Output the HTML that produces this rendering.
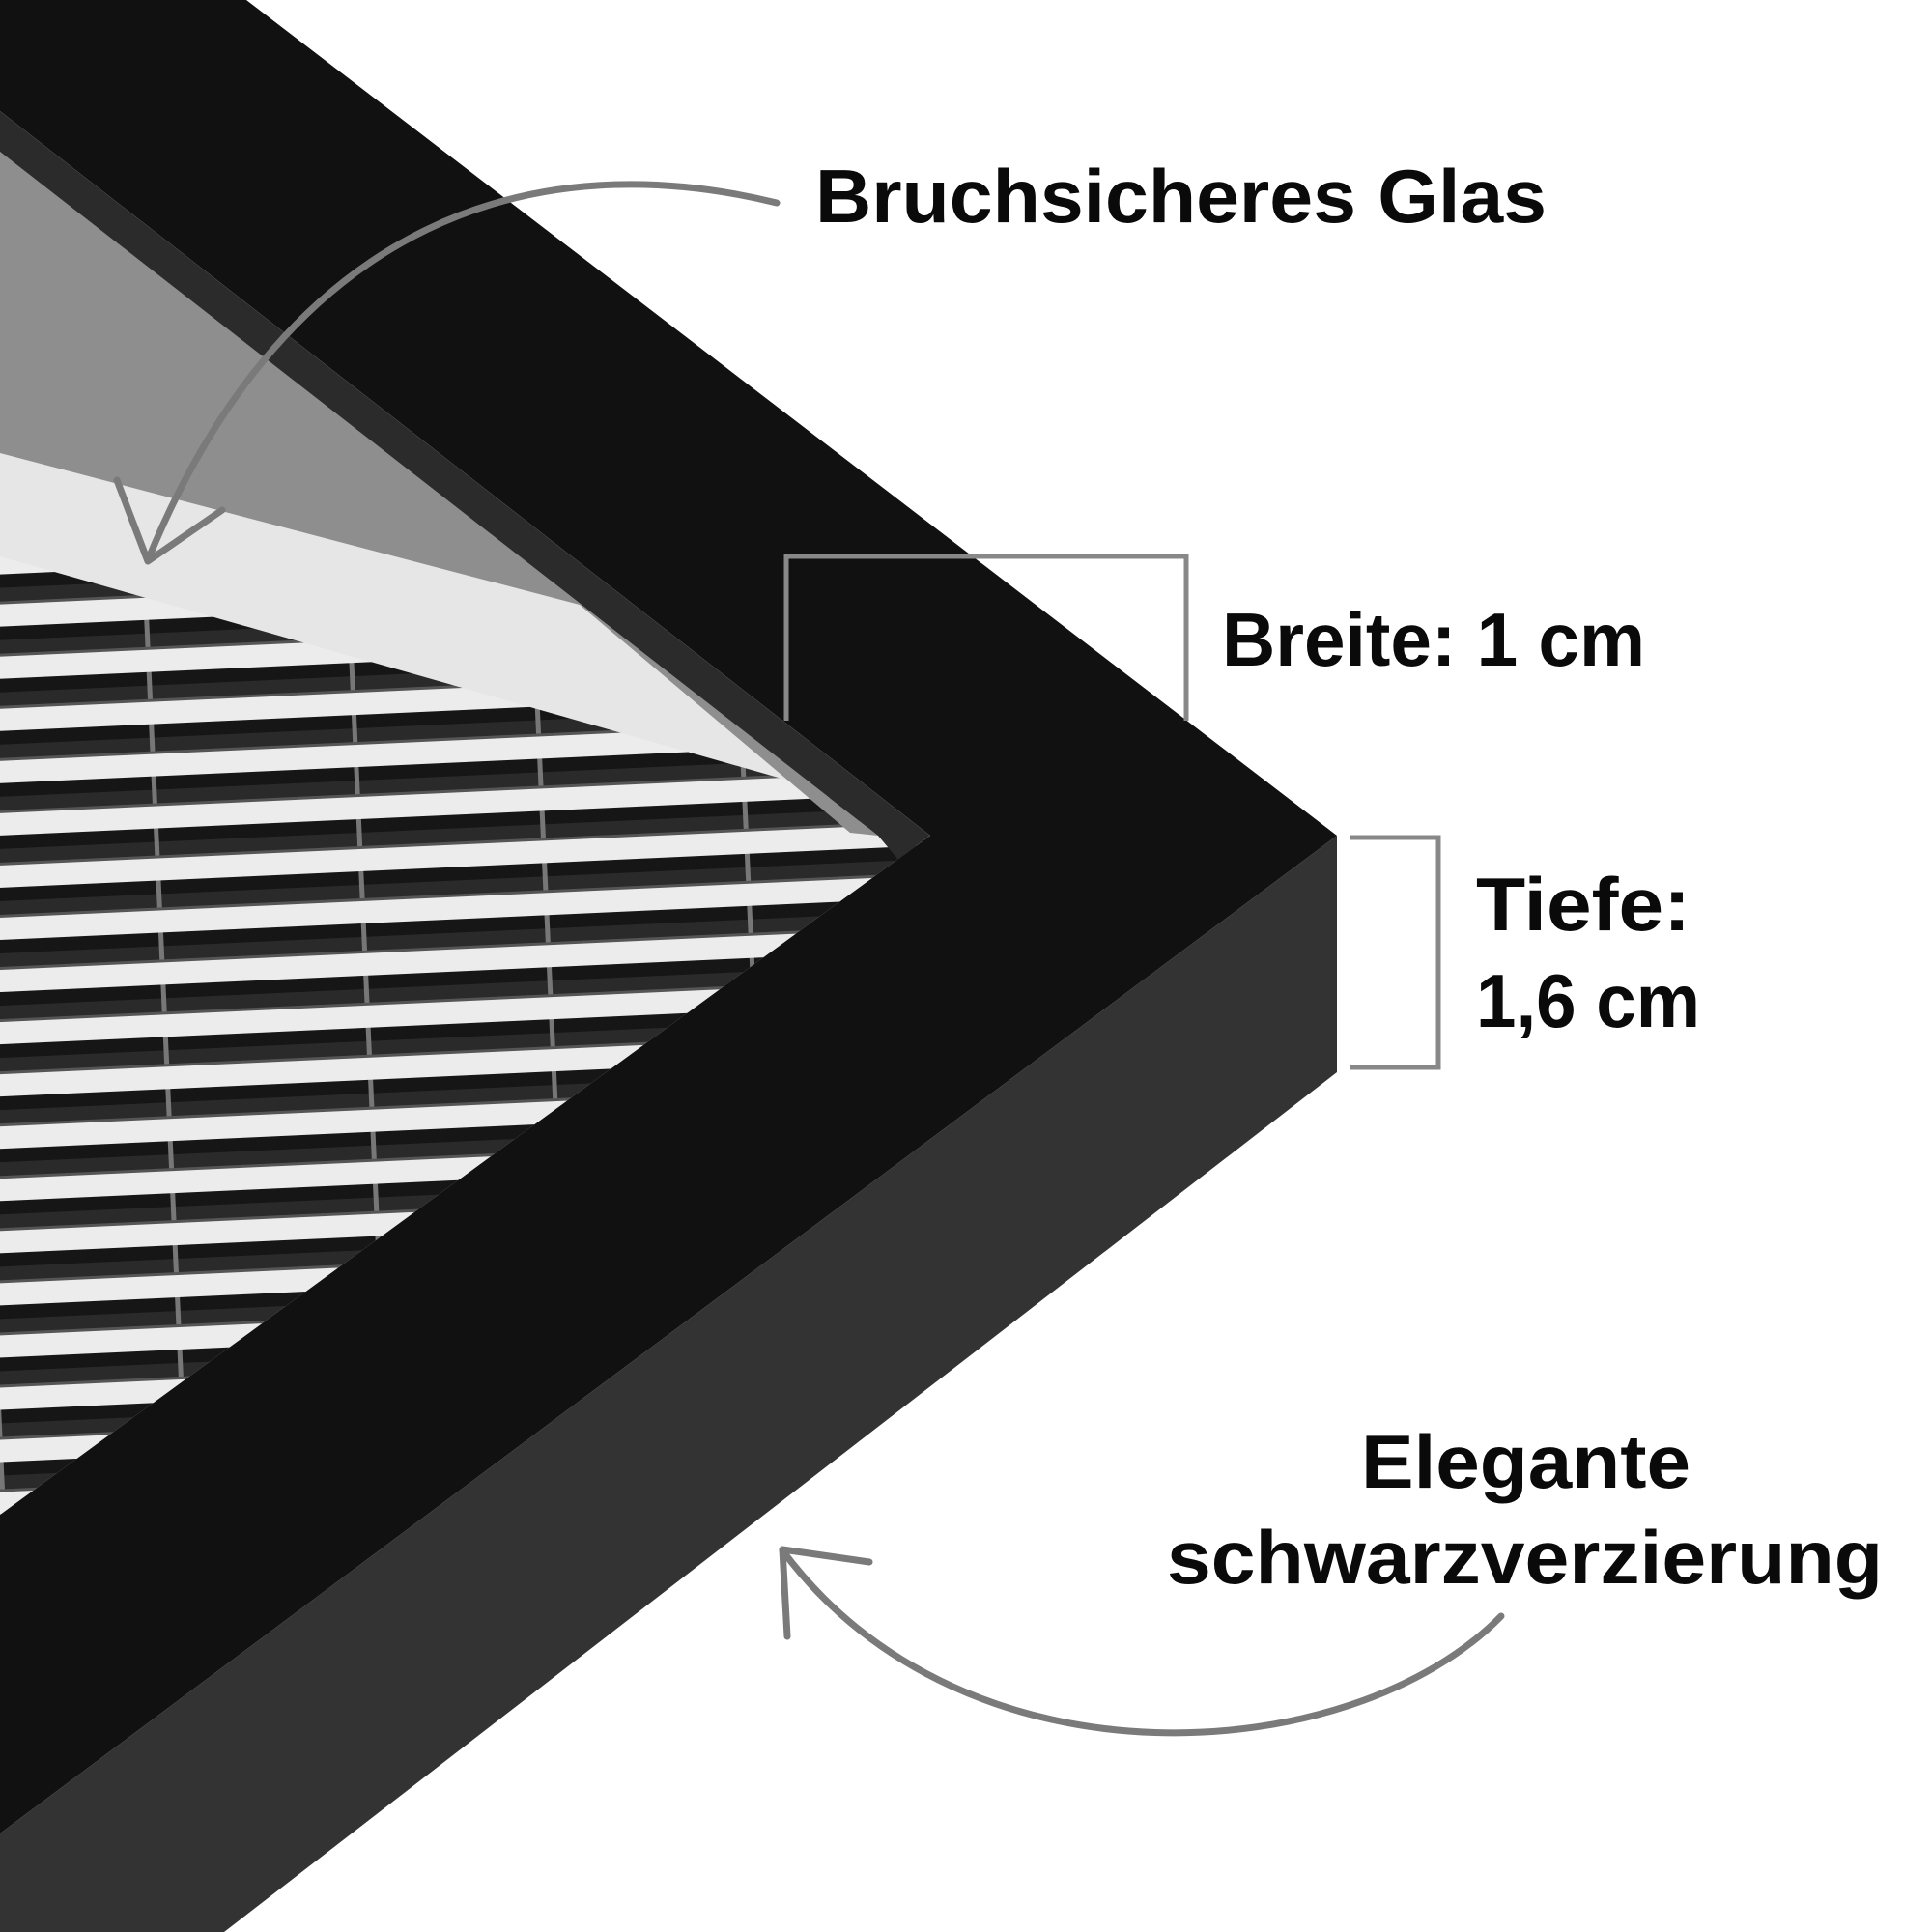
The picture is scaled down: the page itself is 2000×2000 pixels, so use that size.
<!DOCTYPE html>
<html><head><meta charset="utf-8"><style>
html,body{margin:0;padding:0;background:#fff;}
svg{display:block;}
text{font-family:"Liberation Sans",sans-serif;font-weight:bold;fill:#0a0a0a;}
</style></head><body>
<svg width="2000" height="2000" viewBox="0 0 2000 2000" xmlns="http://www.w3.org/2000/svg">
<defs>
<pattern id="str" width="400" height="54" patternUnits="userSpaceOnUse" patternTransform="rotate(-2.6)">
<rect width="400" height="54" fill="#ececec"/>
<rect y="0" width="400" height="14" fill="#161616"/>
<rect y="14" width="400" height="14" fill="#2a2a2a"/>
<rect y="28" width="400" height="3" fill="#555"/>
<rect x="120" y="0" width="5" height="28" fill="#777"/>
<rect x="330" y="0" width="5" height="28" fill="#777"/>
</pattern>
<clipPath id="ph"><polygon points="0,115 963,865 0,1568"/></clipPath>
</defs>
<rect width="2000" height="2000" fill="#fff"/>
<polygon points="0,0 255,0 1384,865 0,1898" fill="#111"/>
<polygon points="1384,865 1384,1110 232,2000 0,2000 0,1898" fill="#333"/>
<g clip-path="url(#ph)">
<rect x="0" y="0" width="1000" height="1600" fill="#e6e6e6"/>
<polygon points="0,576 848,817 1000,880 1000,1600 0,1600" fill="url(#str)"/>
<polygon points="0,157 909,865 880,862 600,626 0,469" fill="#8e8e8e"/>
<polygon points="0,115 963,865 930,890 909,865 0,157" fill="#2b2b2b"/>
</g>
<polyline points="814,746 814,576 1228,576 1228,746" fill="none" stroke="#888" stroke-width="5"/>
<polyline points="1397,867 1489,867 1489,1105 1397,1105" fill="none" stroke="#888" stroke-width="5"/>
<g fill="none" stroke="#7a7a7a" stroke-width="7" stroke-linecap="round" stroke-linejoin="round">
<path d="M804,210 C 560,150 300,220 153,580"/>
<polyline points="121,497 153,581 230,528"/>
<path d="M1554,1673 C 1400,1830 1000,1860 810,1605"/>
<polyline points="900,1617 810,1604 815,1694"/>
</g>
<text x="844" y="230" font-size="78" textLength="757" lengthAdjust="spacingAndGlyphs">Bruchsicheres Glas</text>
<text x="1265" y="689" font-size="78" textLength="438" lengthAdjust="spacingAndGlyphs">Breite: 1 cm</text>
<text x="1528" y="963" font-size="78" textLength="222" lengthAdjust="spacingAndGlyphs">Tiefe:</text>
<text x="1528" y="1063" font-size="78" textLength="232" lengthAdjust="spacingAndGlyphs">1,6 cm</text>
<text x="1409" y="1540" font-size="78" textLength="341" lengthAdjust="spacingAndGlyphs">Elegante</text>
<text x="1208" y="1639" font-size="78" textLength="741" lengthAdjust="spacingAndGlyphs">schwarzverzierung</text>
</svg>
</body></html>
